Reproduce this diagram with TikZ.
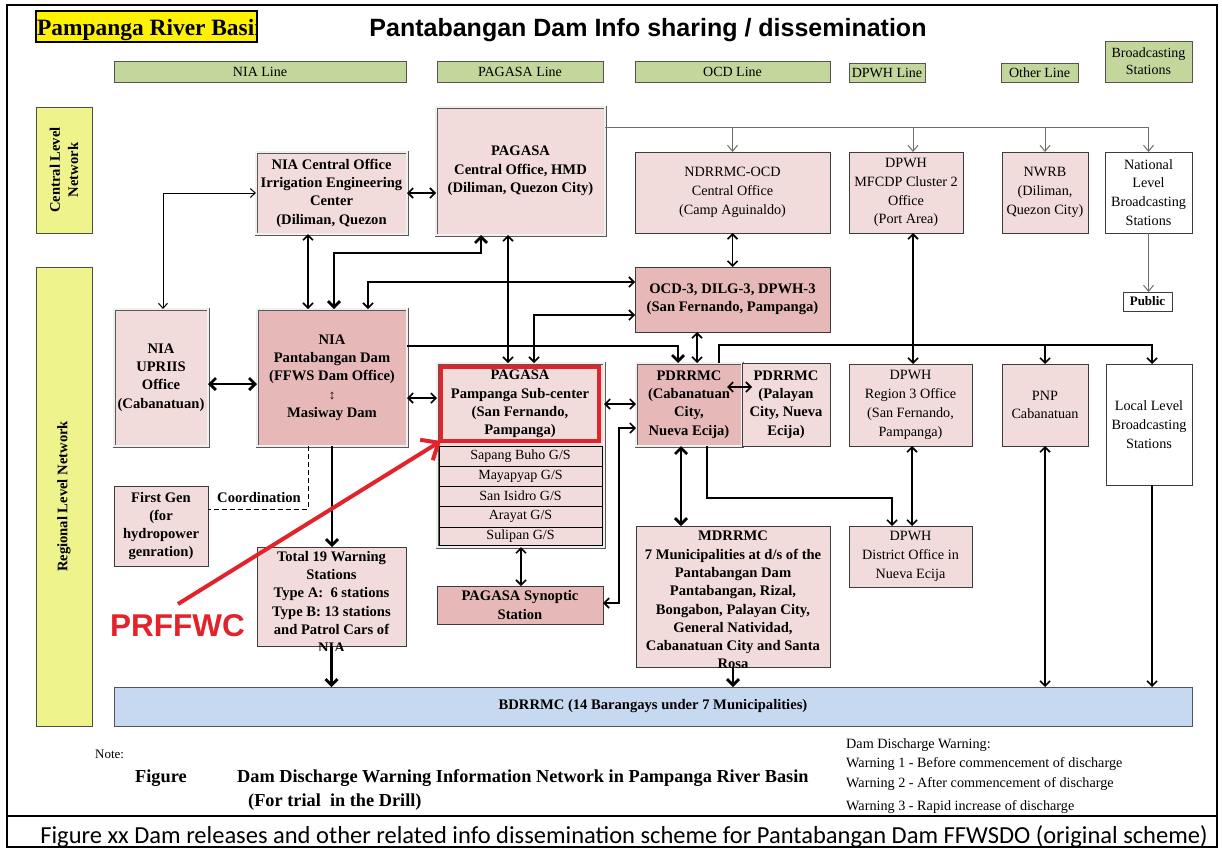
\documentclass[tikz,border=0pt]{standalone}
\usepackage{fontspec}
\setmainfont{Liberation Serif}
\newfontfamily\arialf{Liberation Sans}
\newfontfamily\calibf{Carlito}
\usetikzlibrary{arrows.meta,calc}
\definecolor{pinkL}{HTML}{F2DCDB}
\definecolor{pinkD}{HTML}{E6B9B8}
\definecolor{greenH}{HTML}{C3D69B}
\definecolor{yelS}{HTML}{EEF38C}
\definecolor{blueB}{HTML}{C6D9F1}
\definecolor{redA}{HTML}{E3232B}
\definecolor{bord}{HTML}{3C3C3C}
\definecolor{grayL}{HTML}{6E6E6E}
\tikzset{
 bx/.style={inner sep=0pt, outer sep=0pt, align=center, draw=bord, line width=0.9pt},
 dbl/.style={inner sep=0pt, outer sep=0pt, align=center, draw=gray!70!black, line width=0.8pt, double=white!88!gray, double distance=1.4pt},
 bfont/.style={font=\fontsize{14.6}{18.3}\selectfont\bfseries, align=center},
 rfont/.style={font=\fontsize{14.2}{18.8}\selectfont, align=center},
 hdr/.style={inner sep=0pt, outer sep=0pt, align=center, draw=gray!65!black, line width=1pt, fill=greenH, font=\fontsize{14}{17}\selectfont},
 sidebox/.style={inner sep=0pt, outer sep=0pt, draw=gray!60!black, line width=1pt, fill=yelS},
 rowbox/.style={inner sep=0pt, outer sep=0pt, draw=black, line width=0.7pt, fill=pinkL, font=\fontsize{14}{16}\selectfont},
 thk/.style={line width=2.8pt, >={Straight Barb[length=6pt,width=12pt]}},
 med/.style={line width=1.6pt, >={Straight Barb[length=5pt,width=10pt]}},
 thn/.style={line width=1pt, >={Straight Barb[length=5pt,width=9pt]}},
 gry/.style={line width=1pt, draw=grayL, >={Straight Barb[length=6pt,width=10pt]}},
}
\newcommand\mkbox[7]{%
 \pgfmathsetmacro\mkw{#5-#3}%
 \pgfmathsetmacro\mkh{#6-#4}%
 \node[#2, anchor=north west, minimum width=\mkw pt, minimum height=\mkh pt] (#1) at (#3,#4) {#7};}
\begin{document}
\begin{tikzpicture}[x=1pt,y=-1pt]
\fill[white] (0,0) rectangle (1222,847);
\useasboundingbox (0,0) rectangle (1222,847);
% frame
\draw[line width=1.2pt] (7,5) rectangle (1217,847);
\draw[line width=1.2pt] (7,816) -- (1217,816);
% title box
\mkbox{ttl}{fill=yellow, inner sep=0pt, outer sep=0pt}{36}{11}{257}{42}{}
\begin{scope}
\clip (36,11) rectangle (257,42);
\node[anchor=base west, inner sep=0pt, font=\fontsize{23.4}{24}\selectfont\bfseries] (ttltext) at (37,35) {Pampanga River Basin};
\end{scope}
\draw[line width=1.5pt] (ttl.south west) rectangle (ttl.north east);
\node[anchor=base, inner sep=0pt, font=\arialf\bfseries\fontsize{25}{25}\selectfont] (title) at (648,36) {Pantabangan Dam Info sharing / dissemination};
% line headers
\mkbox{hNIA}{hdr}{114}{61}{406}{82}{NIA Line}
\mkbox{hPAG}{hdr}{437}{61}{603}{82}{PAGASA Line}
\mkbox{hOCD}{hdr}{635}{61}{830}{82}{OCD Line}
\mkbox{hDPWH}{hdr}{849}{63}{925}{82}{DPWH Line}
\mkbox{hOth}{hdr}{1001}{63}{1078}{82}{Other Line}
\mkbox{hBro}{hdr}{1105}{41}{1192}{82}{Broadcasting\\Stations}
% side labels
\mkbox{sCen}{sidebox}{36}{107}{92}{233}{}
\node[bfont, rotate=90, inner sep=0pt] (sCenT) at (sCen.center) {Central Level\\Network};
\mkbox{sReg}{sidebox}{36}{267}{92}{726}{}
\node[bfont, rotate=90, inner sep=0pt] (sRegT) at (sReg.center) {Regional Level Network};
% central level
\mkbox{niaC}{dbl, fill=pinkL, bfont}{256}{152}{407}{234}{NIA Central Office\\Irrigation Engineering\\Center\\(Diliman, Quezon}
\mkbox{pagC}{dbl, fill=pinkL, bfont}{436}{107}{605}{235}{PAGASA\\Central Office, HMD\\(Diliman, Quezon City)}
\mkbox{ndr}{bx, fill=pinkL, rfont}{635}{152}{830}{233}{NDRRMC-OCD\\Central Office\\(Camp Aguinaldo)}
\mkbox{mfc}{bx, fill=pinkL, rfont}{849}{152}{963}{233}{DPWH\\MFCDP Cluster 2\\Office\\(Port Area)}
\mkbox{nwrb}{bx, fill=pinkL, rfont}{1002}{152}{1088}{233}{NWRB\\(Diliman,\\Quezon City)}
\mkbox{nat}{bx, fill=white, rfont}{1105}{152}{1192}{233}{National\\Level\\Broadcasting\\Stations}
\mkbox{pub}{bx, fill=white, font=\fontsize{13}{15}\selectfont\bfseries}{1123}{292}{1172}{311}{Public}
% regional level
\mkbox{ocd3}{bx, fill=pinkD, bfont}{635}{267}{830}{332}{OCD-3, DILG-3, DPWH-3\\(San Fernando, Pampanga)}
\mkbox{upr}{dbl, fill=pinkL, bfont}{114}{309}{208}{446}{NIA\\UPRIIS\\Office\\(Cabanatuan)}
\mkbox{dam}{dbl, fill=pinkD, bfont}{257}{309}{407}{446}{NIA\\Pantabangan Dam\\(FFWS Dam Office)\\{\fontsize{13}{13}\selectfont ↕}\\Masiway Dam}
\mkbox{fg}{bx, fill=pinkL, bfont}{114}{486}{208}{566}{First Gen\\(for\\hydropower\\genration)}
% sub-center
\mkbox{sub}{dbl, fill=pinkL}{437}{363}{604}{547}{}
\mkbox{g1}{rowbox}{439}{446}{602}{466}{Sapang Buho G/S}
\mkbox{g2}{rowbox}{439}{466}{602}{486}{Mayapyap G/S}
\mkbox{g3}{rowbox}{439}{486}{602}{506}{San Isidro G/S}
\mkbox{g4}{rowbox}{439}{506}{602}{527}{Arayat G/S}
\mkbox{g5}{rowbox}{439}{527}{602}{545}{Sulipan G/S}
\mkbox{subR}{draw=redA, line width=4pt, inner sep=0pt, outer sep=0pt, bfont}{441}{367}{599}{441}{PAGASA\\Pampanga Sub-center\\(San Fernando,\\Pampanga)}
\mkbox{syn}{bx, fill=pinkD, bfont}{437}{586}{603}{624}{PAGASA Synoptic\\Station}
\mkbox{pdC}{dbl, fill=pinkD, bfont}{636}{363}{742}{446}{PDRRMC\\(Cabanatuan\\City,\\Nueva Ecija)}
\mkbox{pdP}{bx, fill=pinkL, bfont}{742}{363}{830}{446}{PDRRMC\\(Palayan\\City, Nueva\\Ecija)}
\mkbox{reg3}{bx, fill=pinkL, rfont}{849}{364}{972}{446}{DPWH\\Region 3 Office\\(San Fernando,\\Pampanga)}
\mkbox{dist}{bx, fill=pinkL, rfont}{849}{526}{972}{587}{DPWH\\District Office in\\Nueva Ecija}
\mkbox{pnp}{bx, fill=pinkL, rfont}{1002}{364}{1088}{446}{PNP\\Cabanatuan}
\mkbox{loc}{bx, fill=white, rfont}{1106}{364}{1192}{485}{Local Level\\Broadcasting\\Stations}
% total 19
\mkbox{t19}{bx, fill=pinkL}{257}{547}{406}{646}{}
\begin{scope}
\clip (250,540) rectangle (412,650);
\node[bfont, anchor=north, inner sep=0pt] (t19t) at (331.5,551) {Total 19 Warning\\Stations\\Type A:\ \ 6 stations\\Type B: 13 stations\\and Patrol Cars of\\NIA};
\end{scope}
% MDRRMC
\mkbox{mdr}{bx, fill=pinkL}{636}{526}{830}{667}{}
\begin{scope}
\clip (630,520) rectangle (836,671);
\node[bfont, anchor=north, inner sep=0pt] (mdrt) at (733,531) {MDRRMC\\7 Municipalities at d/s of the\\Pantabangan Dam\\Pantabangan, Rizal,\\Bongabon, Palayan City,\\General Natividad,\\Cabanatuan City and Santa\\Rosa};
\end{scope}
% BDRRMC
\mkbox{bdr}{inner sep=0pt, outer sep=0pt, draw=gray!65!black, line width=1pt, fill=blueB, bfont}{114}{687}{1192}{726}{BDRRMC (14 Barangays under 7 Municipalities)}
% connectors
\draw[gry,->] (pagC.east |- 0,127) -| (nat.north);
\draw[gry,->] (ndr.north |- 0,127) -- (ndr.north);
\draw[gry,->] (913,127) -- (913,0 |- mfc.north);
\draw[gry,->] (nwrb.north |- 0,127) -- (nwrb.north);
\draw[gry,->] (nat.south) -- (nat.south |- pub.north);
\draw[med,<->] (niaC.east |- 0,193) -- (pagC.west |- 0,193);
\draw[thn,<->] (163,0 |- upr.north) |- (niaC.west |- 0,193);
\draw[med,<->] (308,0 |- niaC.south) -- (308,0 |- dam.north);
\draw[thk,<->] (334,0 |- dam.north) -- (334,253) -| (481,0 |- pagC.south);
\draw[med,<->] (368,0 |- dam.north) |- (ocd3.west |- 0,282);
\draw[med,<->] (508,0 |- pagC.south) -- (508,0 |- sub.north);
\draw[med,<->] (534,0 |- sub.north) |- (ocd3.west |- 0,315);
\draw[thk,->] (dam.east |- 0,346) -| (678,0 |- pdC.north);
\draw[med,<->] (ndr.south) -- (ocd3.north);
\draw[med,<->] (697,0 |- ocd3.south) -- (697,0 |- pdC.north);
\draw[med,->] (719,0 |- pdC.north) |- (1152,345) -- (1152,0 |- loc.north);
\draw[med,->] (pnp.north |- 0,345) -- (pnp.north);
\draw[med,<->] (913,0 |- mfc.south) -- (913,0 |- reg3.north);
\draw[med,<->] ($(pdC.east |- 0,387)+(-15,0)$) -- ($(pdP.west |- 0,387)+(10,0)$);
\draw[med,<->] (sub.east |- 0,404) -- (pdC.west |- 0,404);
\draw[med,<->] (pdC.west |- 0,428) -| (619,603) -- (syn.east |- 0,603);
\draw[med,<->] (521,0 |- sub.south) -- (521,0 |- syn.north);
\draw[thk,<->] (681,0 |- pdC.south) -- (681,0 |- mdr.north);
\draw[med,->] (707,0 |- pdC.south) |- (892,498) -- (892,0 |- dist.north);
\draw[med,<->] (912,0 |- reg3.south) -- (912,0 |- dist.north);
\draw[med,<->] (pnp.south) -- (pnp.south |- bdr.north);
\draw[med,->] (1152,0 |- loc.south) -- (1152,0 |- bdr.north);
\draw[thk,->] (mdr.south) -- (mdr.south |- bdr.north);
\draw[thk,->] (dam.south) -- (dam.south |- t19.north);
\draw[thk,->] (t19.south) -- (t19.south |- bdr.north);
\draw[thk,<->] (upr.east |- 0,384) -- (dam.west |- 0,384);
\draw[med,<->] (dam.east |- 0,398) -- (sub.west |- 0,398);
\draw[thn, dash pattern=on 5pt off 3pt] (308,0 |- dam.south) |- (fg.east |- 0,509);
\node[bfont, inner sep=0pt] (coord) at (259,497) {Coordination};
% PRFFWC
\node[anchor=base west, inner sep=0pt, text=redA, font=\arialf\bfseries\fontsize{31.5}{31.5}\selectfont] (prf) at (110,636) {PRFFWC};
\coordinate (rs) at (178,604);
\draw[redA, line width=4pt, -{Straight Barb[length=14pt,width=24pt]}] (rs) -- (subR.south west);
% footer
\node[anchor=base west, inner sep=0pt, font=\fontsize{13}{13}\selectfont] (note) at (95,758) {Note:};
\node[anchor=base west, inner sep=0pt, font=\fontsize{18.3}{20}\selectfont\bfseries] (fig) at (135,782) {Figure};
\node[anchor=base west, inner sep=0pt, font=\fontsize{18.3}{20}\selectfont\bfseries] (figt) at (237,782) {Dam Discharge Warning Information Network in Pampanga River Basin};
\node[anchor=base west, inner sep=0pt, font=\fontsize{18.3}{20}\selectfont\bfseries] (figt2) at (248,806) {(For trial\ \ in the Drill)};
\node[anchor=base west, inner sep=0pt, font=\fontsize{14.2}{16}\selectfont] (lg0) at (846,748) {Dam Discharge Warning:};
\node[anchor=base west, inner sep=0pt, font=\fontsize{14.2}{16}\selectfont] (lg1) at (846,767) {Warning 1 - Before commencement of discharge};
\node[anchor=base west, inner sep=0pt, font=\fontsize{14.2}{16}\selectfont] (lg2) at (846,787) {Warning 2 - After commencement of discharge};
\node[anchor=base west, inner sep=0pt, font=\fontsize{14.2}{16}\selectfont] (lg3) at (846,810) {Warning 3 - Rapid increase of discharge};
\node[anchor=base, inner sep=0pt, font=\calibf\fontsize{24.5}{24.5}\selectfont] (cap) at (624,843) {Figure xx Dam releases and other related info dissemination scheme for Pantabangan Dam FFWSDO (original scheme)};
\end{tikzpicture}
\end{document}
